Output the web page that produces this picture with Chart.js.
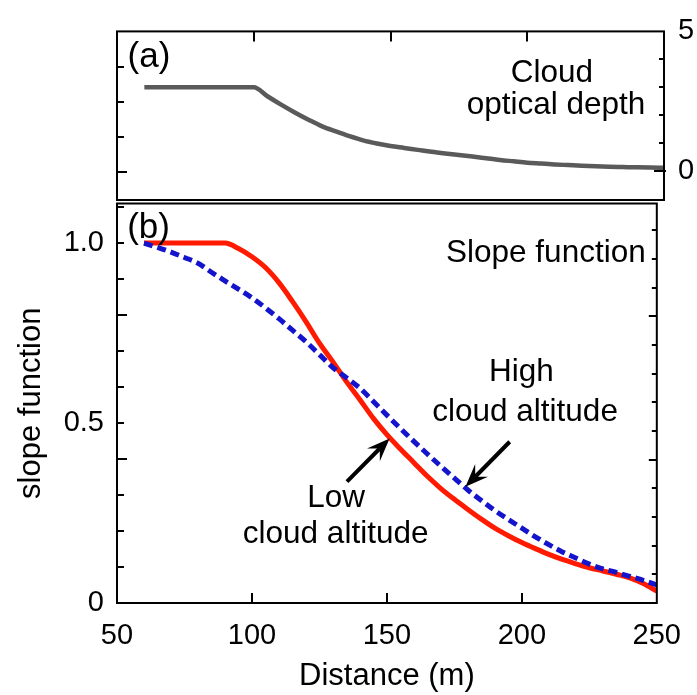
<!DOCTYPE html>
<html><head><meta charset="utf-8">
<script src="https://cdn.jsdelivr.net/npm/chart.js@4/dist/chart.umd.min.js"></script>
<style>
html,body{margin:0;padding:0;background:#fff;}
#wrap{position:relative;width:697px;height:695px;}
canvas{position:absolute;left:0;top:0;}
</style></head><body>
<div id="wrap"><canvas id="ca" width="697" height="695"></canvas><canvas id="cb" width="697" height="695"></canvas></div>
<script>
// ---- data ----
const distance = [60,65,70,75,80,85,90,95,100,105,110,115,120,125,130,135,140,145,150,155,160,165,170,175,180,185,190,195,200,205,210,215,220,225,230,235,240,245,250];
const opticalDepth = [3,3,3,3,3,3,3,3,3,2.68,2.38,2.1,1.84,1.6,1.42,1.25,1.1,0.99,0.9,0.83,0.76,0.69,0.63,0.575,0.52,0.46,0.4,0.35,0.3,0.27,0.24,0.215,0.19,0.17,0.155,0.145,0.135,0.127,0.12];
const slopeLow = [1,1,1,1,1,1,1,0.985,0.962,0.932,0.89,0.838,0.782,0.722,0.67,0.615,0.565,0.513,0.468,0.428,0.39,0.352,0.318,0.288,0.26,0.233,0.208,0.187,0.168,0.151,0.135,0.121,0.109,0.098,0.089,0.08,0.07,0.054,0.033];
const slopeHigh = [1,0.988,0.975,0.96,0.944,0.919,0.895,0.872,0.848,0.82,0.79,0.758,0.726,0.69,0.654,0.626,0.597,0.56,0.522,0.485,0.449,0.414,0.38,0.347,0.314,0.285,0.257,0.232,0.208,0.184,0.162,0.142,0.125,0.108,0.095,0.085,0.074,0.063,0.05];
const xTickLabels = [50,100,150,200,250];
const slopeTickLabels = [0,0.5,1.0];
const depthTickLabels = [0,5];
const xMinorTicks = [100,150,200];
const slopeMinorTicks = [0.1,0.2,0.3,0.4,0.5,0.6,0.7,0.8,0.9,1.0,1.1];
const panelALeftTicks = [0,0.1,0.2,0.3];
const depthRightTicks = [0,1,2,3,4];
const panelBRightTicks = [1,2,3,4,5,6,7,8,9,10,11,12,13];

const notesA = [
  {text:'(a)', x:61.7, y:3.74, size:35},
  {text:'Cloud', x:209.0, y:3.20, size:31.5},
  {text:'optical depth', x:210.5, y:2.05, size:31.5}
];
const notesB = [
  {text:'(b)', x:61.7, y:1.014, size:35},
  {text:'Slope function', x:208.9, y:0.9475, size:31.5},
  {text:'High', x:199.8, y:0.6155, size:31.5},
  {text:'cloud altitude', x:201.2, y:0.5043, size:31.5},
  {text:'Low', x:131.2, y:0.268, size:31.5},
  {text:'cloud altitude', x:131.0, y:0.1667, size:31.5}
];
const arrowsB = [
  {from:[135.2,0.337], to:[151.0,0.457]},
  {from:[195.5,0.448], to:[179.1,0.323]}
];

const FONT = '"Liberation Sans", Arial, Helvetica, sans-serif';
Chart.defaults.font.family = FONT;
Chart.defaults.color = '#000';

function pts(ys){ return distance.map((d,i)=>({x:d, y:ys[i]})); }

function frame(chart){
  const a = chart.chartArea, ctx = chart.ctx;
  ctx.save(); ctx.strokeStyle='#000'; ctx.lineWidth=2;
  ctx.strokeRect(a.left, a.top, a.right-a.left, a.bottom-a.top);
  ctx.restore();
}
function ticks(chart, specs){
  const a = chart.chartArea, ctx = chart.ctx;
  ctx.save(); ctx.strokeStyle='#000'; ctx.lineWidth=2;
  specs.forEach(s=>{
    const sc = chart.scales[s.scale];
    s.values.forEach(v=>{
      const p = Math.round(sc.getPixelForValue(v));
      const len = s.len(v);
      ctx.beginPath();
      if (s.side==='bottom'){ ctx.moveTo(p,a.bottom); ctx.lineTo(p,a.bottom-len); }
      else if (s.side==='top'){ ctx.moveTo(p,a.top); ctx.lineTo(p,a.top+len); }
      else if (s.side==='left'){ ctx.moveTo(a.left,p); ctx.lineTo(a.left+len,p); }
      else { ctx.moveTo(a.right+(s.out?s.out(v):0),p); ctx.lineTo(a.right-len,p); }
      ctx.stroke();
    });
  });
  ctx.restore();
}
function notes(chart, list, yId){
  const ctx = chart.ctx, sx = chart.scales.x, sy = chart.scales[yId];
  ctx.save(); ctx.fillStyle='#000'; ctx.textAlign='center'; ctx.textBaseline='alphabetic';
  list.forEach(n=>{
    ctx.font = n.size+'px '+FONT;
    ctx.fillText(n.text, sx.getPixelForValue(n.x), sy.getPixelForValue(n.y));
  });
  ctx.restore();
}
function arrows(chart, list, yId){
  const ctx = chart.ctx, sx = chart.scales.x, sy = chart.scales[yId];
  ctx.save(); ctx.strokeStyle='#000'; ctx.fillStyle='#000';
  list.forEach(a=>{
    const x1=sx.getPixelForValue(a.from[0]), y1=sy.getPixelForValue(a.from[1]);
    const x2=sx.getPixelForValue(a.to[0]), y2=sy.getPixelForValue(a.to[1]);
    const ang=Math.atan2(y2-y1,x2-x1), c=Math.cos(ang), s=Math.sin(ang);
    const L=23, W=9, N=14;
    ctx.lineWidth=4;
    ctx.beginPath(); ctx.moveTo(x1,y1); ctx.lineTo(x2-N*c, y2-N*s); ctx.stroke();
    ctx.beginPath();
    ctx.moveTo(x2,y2);
    ctx.lineTo(x2-L*c+W*s, y2-L*s-W*c);
    ctx.lineTo(x2-N*c, y2-N*s);
    ctx.lineTo(x2-L*c-W*s, y2-L*s+W*c);
    ctx.closePath(); ctx.fill();
  });
  ctx.restore();
}

const common = {
  responsive:false, animation:false, devicePixelRatio:1,
  plugins:{legend:{display:false}, tooltip:{enabled:false}},
  elements:{point:{radius:0}}
};

// ---- panel (a) ----
new Chart(document.getElementById('ca'), {
  type:'line',
  data:{datasets:[{label:'Cloud optical depth', data:pts(opticalDepth), borderColor:'#5a5a5a', borderWidth:4.5, fill:false, yAxisID:'yR', cubicInterpolationMode:'monotone'}]},
  options:Object.assign({}, common, {
    layout:{padding:{top:26.7, bottom:695-200, left:0, right:0}},
    scales:{
      x:{type:'linear', min:50, max:250, display:false},
      yL:{type:'linear', position:'left', min:-0.0794, max:0.4, grid:{display:false, drawTicks:false}, border:{display:false}, ticks:{display:false},
          afterFit:s=>{s.width=117;}},
      yR:{type:'linear', position:'right', min:-1.034, max:5, grid:{display:false, drawTicks:false}, border:{display:false},
          ticks:{stepSize:1, includeBounds:false, autoSkip:false, padding:14, font:{size:29},
                 callback:v=> depthTickLabels.some(t=>Math.abs(t-v)<1e-6) ? String(Math.round(v)) : ''},
          afterFit:s=>{s.width=33;}}
    }
  }),
  plugins:[{id:'decoA', afterDraw(chart){
    frame(chart);
    ticks(chart, [
      {scale:'x', side:'top', values:xMinorTicks, len:()=>10},
      {scale:'yL', side:'left', values:panelALeftTicks, len:v=> v===0?10:7},
      {scale:'yR', side:'right', values:depthRightTicks, len:v=> v===0?10:5, out:v=> v===0?2:0}
    ]);
    notes(chart, notesA, 'yR');
  }}]
});

// ---- panel (b) ----
new Chart(document.getElementById('cb'), {
  type:'line',
  data:{datasets:[
    {label:'High cloud altitude', data:pts(slopeHigh), borderColor:'#1414cc', borderWidth:5, borderDash:[9,5], fill:false, yAxisID:'yL', cubicInterpolationMode:'monotone'},
    {label:'Low cloud altitude', data:pts(slopeLow), borderColor:'#ff1a00', borderWidth:5, fill:false, yAxisID:'yL', cubicInterpolationMode:'monotone'}
  ]},
  options:Object.assign({}, common, {
    layout:{padding:{top:203.5, bottom:0, left:0, right:0}},
    scales:{
      x:{type:'linear', position:'bottom', min:50, max:250,
         grid:{display:false, drawTicks:false}, border:{display:false},
         ticks:{stepSize:50, padding:16, font:{size:29}, maxRotation:0, autoSkip:false,
                callback:v=> xTickLabels.includes(v) ? String(v) : ''},
         title:{display:true, text:'Distance (m)', font:{size:31}, padding:{top:0,bottom:0}},
         afterFit:s=>{s.height=92;}},
      yL:{type:'linear', position:'left', min:0, max:1.11,
          grid:{display:false, drawTicks:false}, border:{display:false},
          ticks:{stepSize:0.5, includeBounds:false, autoSkip:false, padding:13, font:{size:29},
                 callback:v=>{ const m = slopeTickLabels.find(t=>Math.abs(t-v)<1e-6); return m===undefined?'':(m===0?'0':m.toFixed(1)); }},
          title:{display:true, text:'slope function', font:{size:31}, padding:{top:13,bottom:0}},
          afterFit:s=>{s.width=117;}},
      yR:{type:'linear', position:'right', min:0, max:13.94,
          grid:{display:false, drawTicks:false}, border:{display:false}, ticks:{display:false},
          afterFit:s=>{s.width=33;}}
    }
  }),
  plugins:[{id:'decoB', afterDraw(chart){
    frame(chart);
    ticks(chart, [
      {scale:'x', side:'bottom', values:xMinorTicks, len:()=>10},
      {scale:'yL', side:'left', values:slopeMinorTicks, len:v=> (Math.abs(v-0.4)<1e-6||Math.abs(v-0.8)<1e-6)?10:7},
      {scale:'yR', side:'right', values:panelBRightTicks, len:v=> (v===5||v===10)?8:5}
    ]);
    notes(chart, notesB, 'yL');
    arrows(chart, arrowsB, 'yL');
  }}]
});
</script>
</body></html>
